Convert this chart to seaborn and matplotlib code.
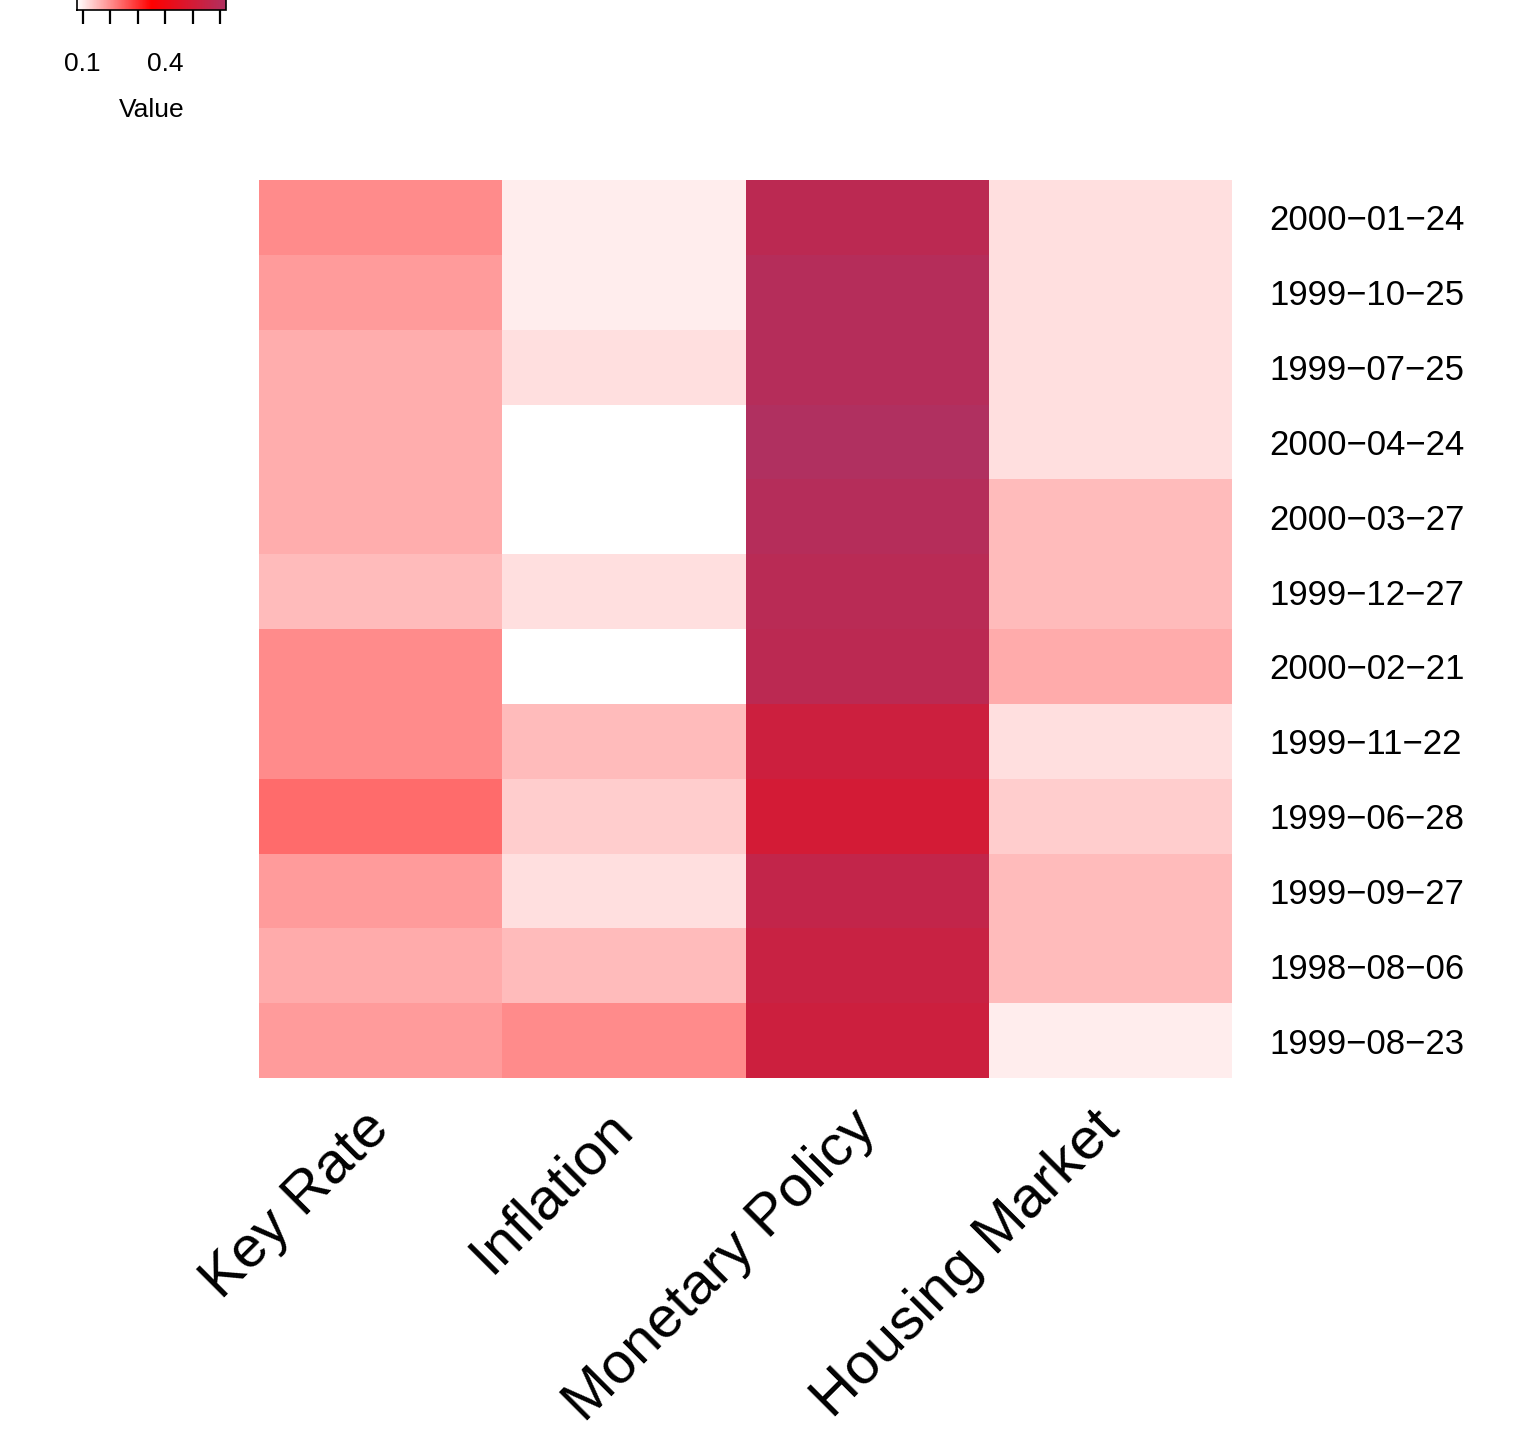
import matplotlib
matplotlib.use("Agg")
import matplotlib.pyplot as plt
from matplotlib.colors import LinearSegmentedColormap
import numpy as np
import pandas as pd
import seaborn as sns

sns.set_style("white")
plt.rcParams["font.family"] = ["Liberation Sans", "DejaVu Sans"]
plt.rcParams["text.color"] = "black"
plt.rcParams["xtick.color"] = "black"
plt.rcParams["ytick.color"] = "black"
plt.rcParams["axes.labelcolor"] = "black"

dates = [
    "2000−01−24", "1999−10−25", "1999−07−25", "2000−04−24",
    "2000−03−27", "1999−12−27", "2000−02−21", "1999−11−22",
    "1999−06−28", "1999−09−27", "1998−08−06", "1999−08−23",
]
topics = ["Key Rate", "Inflation", "Monetary Policy", "Housing Market"]

key_rate = [0.204, 0.186, 0.168, 0.168, 0.168, 0.152, 0.204, 0.204, 0.238, 0.186, 0.170, 0.186]
inflation = [0.100, 0.100, 0.115, 0.080, 0.080, 0.115, 0.080, 0.152, 0.134, 0.115, 0.152, 0.204]
monetary_policy = [0.582, 0.603, 0.603, 0.620, 0.603, 0.590, 0.580, 0.523, 0.501, 0.558, 0.539, 0.523]
housing_market = [0.115, 0.115, 0.115, 0.115, 0.152, 0.152, 0.170, 0.115, 0.134, 0.152, 0.152, 0.100]

df = pd.DataFrame(
    {"Key Rate": key_rate, "Inflation": inflation,
     "Monetary Policy": monetary_policy, "Housing Market": housing_market},
    index=dates,
)[topics]

cmap = LinearSegmentedColormap.from_list("wrm", ["#FFFFFF", "#FF0000", "#B03060"], N=256)

W, H = 1518, 1436
fig = plt.figure(figsize=(W / 100, H / 100), dpi=100)
ax = fig.add_axes([259 / W, 1 - 1078 / H, 973 / W, 898 / H])
cax = fig.add_axes([77 / W, 1 - 10 / H, 149 / W, 25 / H])

sns.heatmap(
    df, cmap=cmap, vmin=0.08, vmax=0.62, ax=ax, cbar_ax=cax,
    cbar_kws={"orientation": "horizontal"},
)

# row labels on the right, column labels rotated below
ax.yaxis.tick_right()
ax.set_yticklabels(dates, rotation=0, fontsize=25, ha="left")
ax.tick_params(axis="y", length=0, pad=27)
ax.set_xticklabels(topics, rotation=45, ha="right", va="center",
                   rotation_mode="anchor", fontsize=42)
ax.tick_params(axis="x", length=0, pad=30)
ax.set_xlabel("")
ax.set_ylabel("")

# colour key
cb = ax.collections[0].colorbar
cb.outline.set_edgecolor("black")
cb.outline.set_linewidth(1.2)
cb.set_ticks([0.1, 0.2, 0.3, 0.4, 0.5, 0.6])
cb.set_ticklabels(["0.1", "", "", "0.4", "", ""])
cax.xaxis.set_ticks_position("bottom")
cax.tick_params(axis="x", length=10, width=1.6, labelsize=19, pad=20, color="black")
cax.set_xlabel("Value", fontsize=19, labelpad=16)

fig.savefig("out.png", dpi=100)
